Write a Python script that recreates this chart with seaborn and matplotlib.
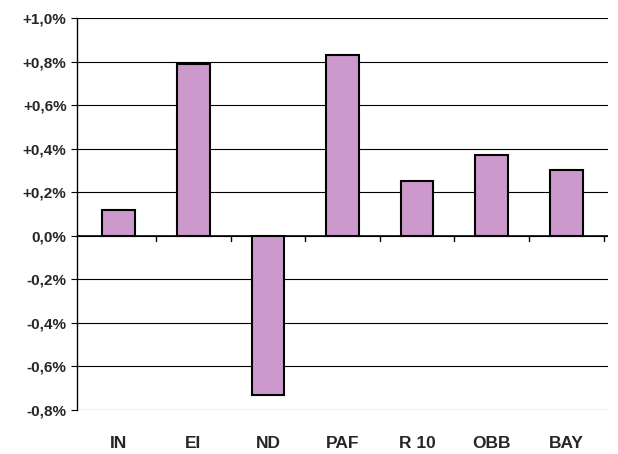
import matplotlib
matplotlib.use("Agg")
import matplotlib.pyplot as plt
import seaborn as sns
import pandas as pd

regions = ["IN", "EI", "ND", "PAF", "R 10", "OBB", "BAY"]
change = [0.12, 0.79, -0.73, 0.83, 0.25, 0.37, 0.30]
y_ticks = [-0.8, -0.6, -0.4, -0.2, 0.0, 0.2, 0.4, 0.6, 0.8, 1.0]

df = pd.DataFrame({"region": regions, "change": change})

sns.set_style("white")
plt.rcParams["font.family"] = ["Liberation Sans", "DejaVu Sans"]

fig = plt.figure(figsize=(6.18, 4.54), dpi=100)
ax = fig.add_axes([77 / 618, 1 - 410 / 454, 531 / 618, 392 / 454])

sns.barplot(data=df, x="region", y="change", color="#CC99CC", edgecolor="black",
            linewidth=1.5, width=0.44, saturation=1, ax=ax)

ax.set_ylim(-0.8, 1.0)
ax.set_xlim(-0.56, len(regions) - 0.44)
ax.set_yticks(y_ticks)
ax.set_yticklabels([("+" if v > 0 else "") + f"{v:.1f}%".replace(".", ",") for v in y_ticks],
                   fontsize=11, fontweight="bold")
for v in y_ticks:
    ax.axhline(v, color="black", linewidth=0.8, zorder=0)
ax.axhline(0, color="black", linewidth=1.2, zorder=3)
for i in range(len(regions)):
    ax.plot([i + 0.5, i + 0.5], [0, -0.025], color="black", linewidth=1, zorder=3, clip_on=False)

ax.set_xticks([])
ax.set_xlabel("")
ax.set_ylabel("")
ax.tick_params(axis="y", length=4, color="black", left=True)
for i, r in enumerate(regions):
    ax.text(i, -0.085, r, transform=ax.get_xaxis_transform(), ha="center", va="center",
            fontsize=12.5, fontweight="bold")

for s in ["top", "right", "bottom"]:
    ax.spines[s].set_visible(False)
ax.spines["left"].set_color("black")
ax.spines["left"].set_linewidth(1)

fig.savefig("out.png", dpi=100)
